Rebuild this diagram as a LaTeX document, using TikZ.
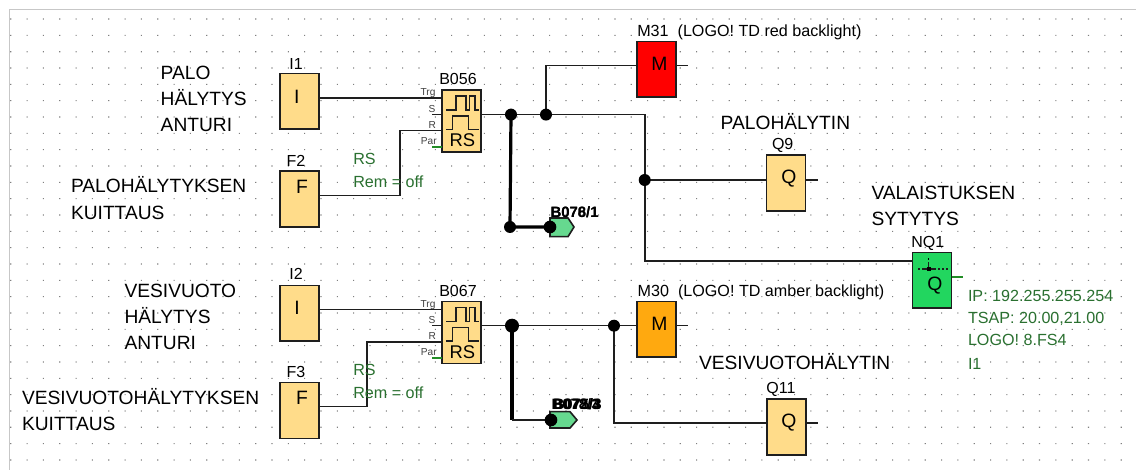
\documentclass[tikz,border=0pt]{standalone}
\usepackage{fontspec}
\setmainfont{Liberation Sans}
\definecolor{blockfill}{HTML}{FFDC8A}
\definecolor{amberfill}{HTML}{FFA90F}
\definecolor{netfill}{HTML}{22D65F}
\definecolor{tagfill}{HTML}{66D98F}
\definecolor{greentext}{HTML}{2A7030}
\definecolor{edge}{HTML}{1E1E1E}
\newcommand{\fsz}[1]{\fontsize{#1}{#1}\selectfont}
\tikzset{
  x=0.75pt,y=-0.75pt,
  block/.style={draw=edge,line width=1.2pt,fill=blockfill,minimum width=29.5pt,minimum height=41.7pt,inner sep=0pt,outer sep=0pt},
  rsblock/.style={block,minimum height=46.5pt},
  tx/.style={anchor=base west,inner sep=0pt,outer sep=0pt},
  big/.style={tx,font=\fsz{14.4}},
  lab/.style={anchor=base,inner sep=0pt,outer sep=0pt,font=\fsz{12}},
  labw/.style={tx,font=\fsz{12.1}},
  sym/.style={anchor=base,inner sep=0pt,outer sep=0pt,font=\fsz{14.5}},
  pin/.style={anchor=base east,inner sep=0pt,outer sep=0pt,font=\fsz{7.6},text=black!75},
  gtxt/.style={tx,font=\fsz{12.1},text=greentext},
  wire/.style={draw=edge,line width=1.2pt},
  thickwire/.style={draw=black,line width=2.4pt},
  gwire/.style={draw=greentext!80!green,line width=0.9pt},
  junction/.style={circle,fill=black,minimum size=9pt,inner sep=0pt,outer sep=0pt},
  tagshape/.style={draw=edge,line width=1.2pt,fill=tagfill,line join=miter},
  icon/.style={draw=edge,line width=1pt},
  overlaid/.style={tx,font=\fsz{11.2}\bfseries},
}
\begin{document}
\begin{tikzpicture}
\useasboundingbox (0,0) rectangle (1136,470);
\fill[white] (0,0) rectangle (1136,470);
% frame
\draw[black!22,line width=0.9pt] (9.5,470) -- (9.5,9.5) -- (1136,9.5);
% grid
\fill[black!50]
  \foreach \i in {0,...,68}{\foreach \j in {0,...,27}{
    ({10.2+16.33*\i},{18.5+16.33*\j}) rectangle ++(1.1,1.1)
  }};

% blocks
\node[block] (I1) at (299.4,101.5) {};
\node[block] (F2) at (299.4,199) {};
\node[block] (I2) at (299.4,313.2) {};
\node[block] (F3) at (299.4,410.5) {};
\node[rsblock] (B056) at (461.5,121) {};
\node[rsblock] (B067) at (461.5,332.7) {};
\node[block,fill=red] (M31) at (656.4,69.2) {};
\node[block] (Q9) at (786,183) {};
\node[block,fill=netfill] (NQ1) at (932,280.5) {};
\node[block,fill=amberfill] (M30) at (656.4,329.2) {};
\node[block] (Q11) at (786.4,426.9) {};

% pins and bends
\coordinate (I1o) at (319,98.3);
\coordinate (F2o) at (319,195.7);
\coordinate (I2o) at (319,309.6);
\coordinate (F3o) at (319,406.7);
\coordinate (A1) at (442,98.3);
\coordinate (A2) at (442,130.7);
\coordinate (A3) at (432,114.6);
\coordinate (A4) at (432,147);
\coordinate (A5) at (442,147);
\coordinate (Ao) at (481,114.6);
\coordinate (C1) at (442,309.6);
\coordinate (C2) at (442,342);
\coordinate (C3) at (432,325.7);
\coordinate (C4) at (432,358);
\coordinate (C5) at (442,358);
\coordinate (Co) at (481,325.7);
\coordinate (bendF2a) at (399.7,195.7);
\coordinate (bendF2b) at (399.7,130.7);
\coordinate (bendF3a) at (367,406.7);
\coordinate (bendF3b) at (367,342);

% junction positions
\coordinate (J1) at (511,114.6);
\coordinate (J2) at (546,114.6);
\coordinate (J3) at (644.7,180);
\coordinate (J1b) at (510,227);
\coordinate (T1) at (550,227);
\coordinate (J4) at (512,325.7);
\coordinate (J5) at (614,325.7);
\coordinate (T2) at (551,420);

% outputs
\coordinate (M31i) at (636.7,65.7);
\coordinate (M31o) at (676,65.7);
\coordinate (M31e) at (688,65.7);
\coordinate (Q9i) at (766.3,180);
\coordinate (Q9o) at (805.7,180);
\coordinate (Q9e) at (817.7,180);
\coordinate (NQi) at (912.3,261);
\coordinate (NQo) at (951.7,277);
\coordinate (NQe) at (963,277);
\coordinate (M30i) at (636.7,325.7);
\coordinate (M30o) at (676,325.7);
\coordinate (M30e) at (688,325.7);
\coordinate (Q11i) at (766.7,423.3);
\coordinate (Q11o) at (806,423.3);
\coordinate (Q11e) at (817.7,423.3);
\coordinate (bendMain) at (644.7,114.6);

% wires
\draw[wire] (I1o) -- (A1);
\draw[wire] (F2o) -- (bendF2a) -- (bendF2b) -- (A2);
\draw[wire] (A3) -- (B056.west |- A3);
\draw[gwire] (A4) -- (A5);
\draw[wire] (I2o) -- (C1);
\draw[wire] (F3o) -- (bendF3a) -- (bendF3b) -- (C2);
\draw[wire] (C3) -- (B067.west |- C3);
\draw[gwire] (C4) -- (C5);
\draw[wire] (Ao) -- (bendMain) -- (J3) |- (NQi);
\draw[wire] (J2) |- (M31i);
\draw[wire] (M31o) -- (M31e);
\draw[wire] (J3) -- (Q9i);
\draw[wire] (Q9o) -- (Q9e);
\draw[gwire] (NQo) -- (NQe);
\draw[wire] (Co) -- (M30i);
\draw[wire] (M30o) -- (M30e);
\draw[wire] (J5) |- (Q11i);
\draw[wire] (Q11o) -- (Q11e);

% thick branch wires
\draw[thickwire,line cap=round] (J1) -- (J1b) -- (T1);
\draw[thickwire,line width=3.2pt] (J4) -- (J4 |- T2);
\draw[wire,line width=1.5pt] (J4 |- T2) -- (T2);

% tags
\filldraw[tagshape] (550,218) -- (568,218) -- (574,227) -- (568,236.7) -- (550,236.7) -- cycle;
\filldraw[tagshape] (550,411.7) -- (570,411.7) -- (577,420) -- (570,428) -- (550,428) -- cycle;

% junction dots
\node[junction] (dJ1) at (J1) {};
\node[junction] (dJ2) at (J2) {};
\node[junction] (dJ3) at (J3) {};
\node[junction] (dJ1b) at (J1b) {};
\node[junction,minimum size=9.5pt] (dT1) at (T1) {};
\node[junction,minimum size=10.5pt] (dJ4) at (J4) {};
\node[junction] (dJ5) at (J5) {};
\node[junction,minimum size=9.5pt] (dT2) at (T2) {};

% pulse icons
\foreach \yo in {0,211.7}{
  \draw[icon] (446,{110+\yo}) -- (456,{110+\yo}) -- (456,{96+\yo}) -- (466,{96+\yo}) -- (466,{110+\yo}) -- (469.5,{110+\yo}) -- (469.5,{96+\yo}) -- (475,{96+\yo}) -- (475,{110+\yo}) -- (479,{110+\yo});
  \draw[icon] (446,{129.3+\yo}) -- (452.7,{129.3+\yo}) -- (452.7,{116+\yo}) -- (468.3,{116+\yo}) -- (468.3,{129.3+\yo}) -- (479,{129.3+\yo});
}
\node[sym,font=\fsz{13.8}] (rs1) at (462.3,146.7) {RS};
\node[sym,font=\fsz{13.8}] (rs2) at (462.3,358.4) {RS};

% block letters
\node[sym] (lI1) at (296.7,103.3) {I};
\node[sym] (lF2) at (302,194) {F};
\node[sym] (lI2) at (297,314.3) {I};
\node[sym] (lF3) at (302,405) {F};
\node[sym] (lM31) at (659.3,71) {M};
\node[sym] (lQ9) at (789,184) {Q};
\node[sym] (lQ) at (935,291) {Q};
\node[sym] (lM30) at (659.3,331) {M};
\node[sym] (lQ11) at (789,427) {Q};

% NQ1 icon
\draw[icon,dash pattern=on 1.5pt off 1.5pt] (918,269) -- (948,269);
\draw[icon,line width=1.4pt] (924,269) -- (934,269);
\draw[icon] (928.7,262.5) -- (928.7,269);
\fill[black] (926.7,267) rectangle (930.7,271);
\fill[black] (928,258) rectangle (929.4,260);

% pin labels
\node[pin] (p1) at (435.5,96) {Trg};
\node[pin] (p2) at (435.5,112.7) {S};
\node[pin] (p3) at (436,128.7) {R};
\node[pin] (p4) at (436.7,145) {Par};
\node[pin] (p5) at (435.5,307.3) {Trg};
\node[pin] (p6) at (435.5,323.7) {S};
\node[pin] (p7) at (436,340) {R};
\node[pin] (p8) at (436.7,356) {Par};

% block titles
\node[lab] (tI1) at (296,69.3) {I1};
\node[lab] (tF2) at (296,166.7) {F2};
\node[lab] (tI2) at (296,280) {I2};
\node[lab] (tF3) at (296,377.7) {F3};
\node[lab] (tB056) at (458,85) {B056};
\node[lab] (tB067) at (458,296.7) {B067};
\node[lab] (tQ9) at (782.7,150) {Q9};
\node[lab] (tNQ1) at (927.7,248) {NQ1};
\node[lab] (tQ11) at (781,394) {Q11};
\node[labw] (tM31) at (637.3,36.7) {M31\ \ (LOGO! TD red backlight)};
\node[labw] (tM30) at (637.7,296.7) {M30\ \ (LOGO! TD amber backlight)};

% overlaid tag labels
\node[overlaid] (o1) at (550.5,217.3) {\rlap{B076/1}B078/1};
\node[overlaid] (o2) at (551.5,409.3) {\rlap{B078/3}\rlap{\kern1pt B072/4}\kern1.5pt B075/3};

% big texts
\node[big] (a1) at (160.7,80) {PALO};
\node[big] (a2) at (160.7,106) {HÄLYTYS};
\node[big] (a3) at (160.7,132) {ANTURI};
\node[big] (a4) at (71,193) {PALOHÄLYTYKSEN};
\node[big] (a5) at (71,220) {KUITTAUS};
\node[big] (a6) at (124.5,298) {VESIVUOTO};
\node[big] (a7) at (124.5,324) {HÄLYTYS};
\node[big] (a8) at (124.5,350) {ANTURI};
\node[big] (a9) at (22,405) {VESIVUOTOHÄLYTYKSEN};
\node[big] (a10) at (22,431) {KUITTAUS};
\node[big] (a11) at (720.7,129.3) {PALOHÄLYTIN};
\node[big] (a12) at (699,369.3) {VESIVUOTOHÄLYTIN};
\node[big] (a13) at (871.5,200) {VALAISTUKSEN};
\node[big] (a14) at (871.5,226) {SYTYTYS};

% green texts
\node[gtxt] (g1) at (353.3,164.7) {RS};
\node[gtxt] (g2) at (353.3,187.3) {Rem = off};
\node[gtxt] (g3) at (353.3,376) {RS};
\node[gtxt] (g4) at (353.3,398.7) {Rem = off};
\node[gtxt] (g5) at (968,301.7) {IP: 192.255.255.254};
\node[gtxt] (g6) at (968,323.3) {TSAP: 20.00,21.00};
\node[gtxt] (g7) at (968,346) {LOGO! 8.FS4};
\node[gtxt] (g8) at (968,369.3) {I1};
\end{tikzpicture}
\end{document}
